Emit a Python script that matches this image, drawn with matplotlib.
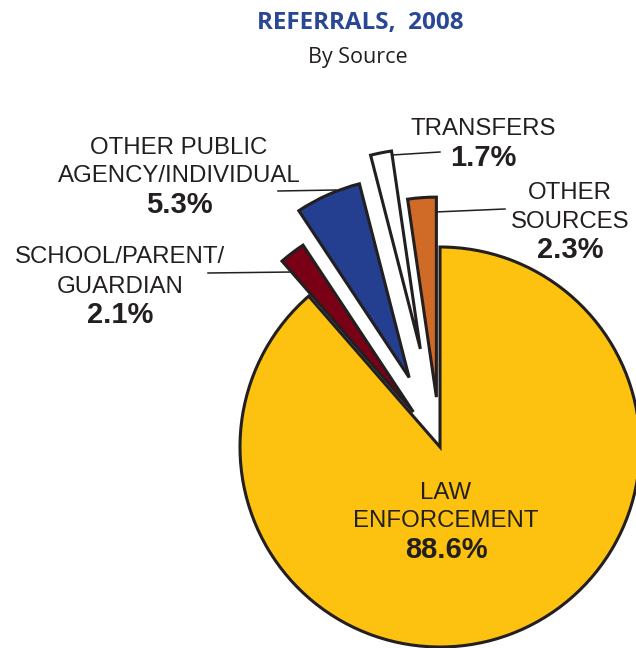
import matplotlib
matplotlib.use("Agg")
import matplotlib.pyplot as plt

# ---- data ----
categories = ["OTHER\nSOURCES", "TRANSFERS", "OTHER PUBLIC\nAGENCY/INDIVIDUAL",
              "SCHOOL/PARENT/\nGUARDIAN", "LAW\nENFORCEMENT"]
values = [2.3, 1.7, 5.3, 2.1, 88.6]
colors = ["#CF6A27", "#FFFFFF", "#243F8F", "#7A0016", "#FDC20F"]
explode_frac = [0.25, 0.5, 0.38, 0.22, 0.0]

W, H = 636, 648
fig = plt.figure(figsize=(W / 100, H / 100), dpi=100)
ax = fig.add_axes([0, 0, 1, 1])

dark = "#231F20"
cx, cy, R = 440, H - 447, 200
ax.pie(values, colors=colors, explode=[e * R for e in explode_frac],
       startangle=90, counterclock=True,
       center=(cx, cy), radius=R, frame=True,
       wedgeprops=dict(edgecolor=dark, linewidth=2.2, joinstyle="miter"))
ax.set_xlim(0, W)
ax.set_ylim(0, H)
ax.set_aspect("equal")
ax.axis("off")

def Y(y):
    return H - y

# title
ax.text(360, Y(29), "REFERRALS,  2008", fontsize=17.5, fontweight="bold",
        family="Open Sans", color="#2A4796", ha="center", va="baseline")
ax.text(358, Y(63), "By Source", fontsize=15.5, family="Open Sans",
        color=dark, ha="center", va="baseline")

# label layout: (x center, baselines of name lines, baseline of percentage)
layout = {
    0: (570, [199, 228], 258),
    1: (483, [135], 166),
    2: (179, [154, 182], 213),
    3: (120, [263, 293], 323),
    4: (446, [499, 527], 558),
}
fam = "Liberation Sans"
for i, (x, lines_y, py) in layout.items():
    for txt, yy in zip(categories[i].split("\n"), lines_y):
        ax.text(x, Y(yy), txt, fontsize=17.3, family=fam, color=dark,
                ha="center", va="baseline")
    ax.text(x, Y(py), f"{values[i]:.1f}%", fontsize=21, fontweight="bold",
            family=fam, color=dark, ha="center", va="baseline")

# leader lines
leaders = [
    ((435, 212), (505, 209)),
    ((392, 155), (440, 152)),
    ((278, 191), (336, 190)),
    ((208, 273), (293, 272)),
]
for (x0, y0), (x1, y1) in leaders:
    ax.plot([x0, x1], [Y(y0), Y(y1)], color=dark, lw=1.1, zorder=0)

fig.savefig("out.png", dpi=100)
